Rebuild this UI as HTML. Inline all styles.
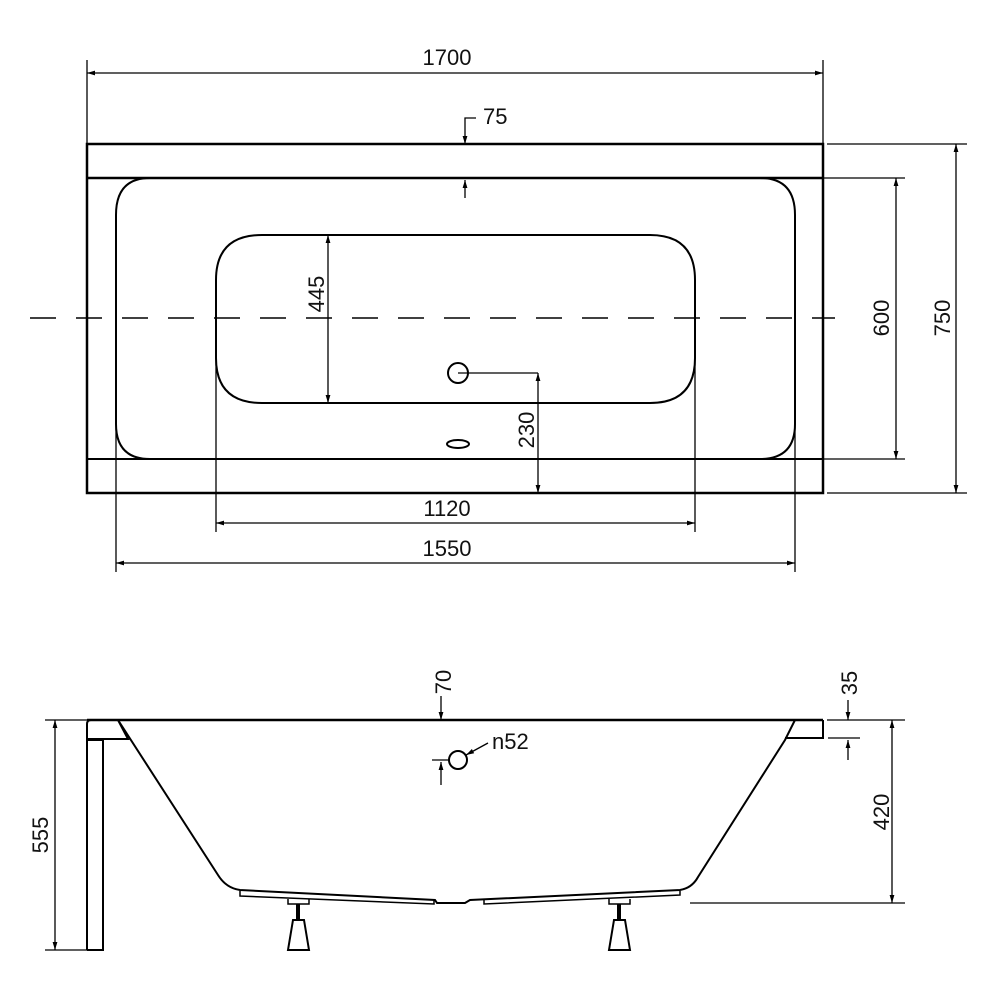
<!DOCTYPE html>
<html><head><style>body{margin:0;background:#fff}svg{display:block}text{font-family:"Liberation Sans",sans-serif;font-size:22px;fill:#111}</style></head>
<body>
<svg width="1000" height="1000" viewBox="0 0 1000 1000" xmlns="http://www.w3.org/2000/svg">
<defs><marker id="a" viewBox="0 0 10 10" refX="10" refY="5" markerWidth="10" markerHeight="8" orient="auto-start-reverse" markerUnits="userSpaceOnUse"><path d="M0,2 L10,5 L0,8 z" fill="#000"/></marker></defs>
<g fill="none" stroke="#000">
<rect x="87" y="144" width="736" height="349" stroke-width="2.5"/>
<line x1="87" y1="178" x2="823" y2="178" stroke-width="2.5"/>
<line x1="87" y1="459" x2="823" y2="459" stroke-width="2"/>
<path d="M150,178 H760 Q795,178 795,215 V424 Q795,459 760,459 H150 Q116,459 116,424 V215 Q116,178 150,178 Z" stroke-width="2"/>
<path d="M262,235 H650 Q695,235 695,280 V358 Q695,403 650,403 H262 Q216,403 216,358 V280 Q216,235 262,235 Z" stroke-width="2"/>
<line x1="30" y1="318" x2="835" y2="318" stroke-width="1.5" stroke-dasharray="26,20"/>
<circle cx="458" cy="373" r="10" stroke-width="2"/>
<ellipse cx="458" cy="444" rx="11" ry="4" stroke-width="2"/>
<g stroke-width="1.3">
<line x1="87" y1="60" x2="87" y2="144"/><line x1="823" y1="60" x2="823" y2="144"/>
<line x1="87" y1="73" x2="823" y2="73" marker-start="url(#a)" marker-end="url(#a)"/>
<polyline points="476,118 465,118 465,144" marker-end="url(#a)"/>
<line x1="465" y1="198" x2="465" y2="180" marker-end="url(#a)"/>
<line x1="823" y1="178" x2="905" y2="178"/><line x1="823" y1="459" x2="905" y2="459"/>
<line x1="896" y1="178" x2="896" y2="459" marker-start="url(#a)" marker-end="url(#a)"/>
<line x1="827" y1="144" x2="967" y2="144"/><line x1="827" y1="493" x2="967" y2="493"/>
<line x1="956" y1="144" x2="956" y2="493" marker-start="url(#a)" marker-end="url(#a)"/>
<line x1="328" y1="235" x2="328" y2="403" marker-start="url(#a)" marker-end="url(#a)"/>
<polyline points="458,373 538,373"/>
<line x1="538" y1="373" x2="538" y2="493" marker-start="url(#a)" marker-end="url(#a)"/>
<line x1="216" y1="318" x2="216" y2="532"/><line x1="695" y1="318" x2="695" y2="532"/>
<line x1="216" y1="523" x2="695" y2="523" marker-start="url(#a)" marker-end="url(#a)"/>
<line x1="116" y1="318" x2="116" y2="572"/><line x1="795" y1="318" x2="795" y2="572"/>
<line x1="116" y1="563" x2="795" y2="563" marker-start="url(#a)" marker-end="url(#a)"/>
</g>
<line x1="87" y1="720" x2="823" y2="720" stroke-width="2.5"/>
<path d="M87,950 V724 Q87,720 91,720 H118 L128,739 H87" stroke-width="2"/>
<path d="M87,740 H103 V950 H87" stroke-width="2"/>
<path d="M118,720 L218,875 Q226,888 240,890 L435,900 L437,903 H465 L470,900 L680,890 Q692,888 698,877 L785,740 L795,720" stroke-width="2"/>
<path d="M785,738 H823 V720" stroke-width="2"/>
<path d="M240,891 V896 L434,904 V900" stroke-width="1.5"/>
<path d="M484,900 V904 L680,895 V891" stroke-width="1.5"/>
<path d="M288,899 V904 H309 V899" stroke-width="1.5"/>
<path d="M609,899 V904 H630 V899" stroke-width="1.5"/>
<line x1="298" y1="904" x2="298" y2="920" stroke-width="4"/>
<line x1="619" y1="904" x2="619" y2="920" stroke-width="4"/>
<path d="M293,920 H304 L309,950 H288 Z" stroke-width="2"/>
<path d="M614,920 H625 L630,950 H609 Z" stroke-width="2"/>
<circle cx="458" cy="760" r="9" stroke-width="2"/>
<g stroke-width="1.3">
<line x1="45" y1="720" x2="87" y2="720"/><line x1="45" y1="950" x2="87" y2="950"/>
<line x1="55" y1="720" x2="55" y2="950" marker-start="url(#a)" marker-end="url(#a)"/>
<line x1="441" y1="696" x2="441" y2="720" marker-end="url(#a)"/>
<line x1="441" y1="785" x2="441" y2="762" marker-end="url(#a)"/>
<line x1="432" y1="760" x2="450" y2="760"/>
<line x1="488" y1="743" x2="466" y2="755" marker-end="url(#a)"/>
<line x1="827" y1="720" x2="905" y2="720"/>
<line x1="690" y1="903" x2="905" y2="903"/>
<line x1="892" y1="720" x2="892" y2="903" marker-start="url(#a)" marker-end="url(#a)"/>
<line x1="848" y1="700" x2="848" y2="720" marker-end="url(#a)"/>
<line x1="848" y1="760" x2="848" y2="740" marker-end="url(#a)"/>
<line x1="828" y1="738" x2="860" y2="738"/>
</g>
</g>
<text x="447" y="65" text-anchor="middle">1700</text>
<text x="483" y="124">75</text>
<text x="447" y="516" text-anchor="middle">1120</text>
<text x="447" y="556" text-anchor="middle">1550</text>
<text transform="translate(324,294) rotate(-90)" text-anchor="middle">445</text>
<text transform="translate(534,430) rotate(-90)" text-anchor="middle">230</text>
<text transform="translate(889,318) rotate(-90)" text-anchor="middle">600</text>
<text transform="translate(950,318) rotate(-90)" text-anchor="middle">750</text>
<text transform="translate(48,835) rotate(-90)" text-anchor="middle">555</text>
<text transform="translate(451,682) rotate(-90)" text-anchor="middle">70</text>
<text transform="translate(857,683) rotate(-90)" text-anchor="middle">35</text>
<text transform="translate(889,812) rotate(-90)" text-anchor="middle">420</text>
<text x="492" y="749">n52</text>
</svg>
</body></html>
